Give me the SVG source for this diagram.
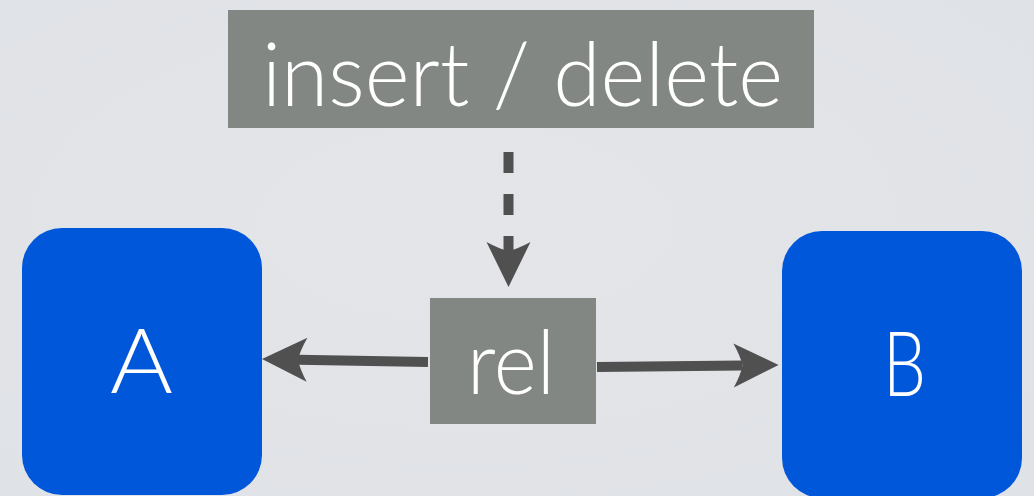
<svg xmlns="http://www.w3.org/2000/svg" width="1034" height="496" viewBox="0 0 1034 496">
  <defs>
    <radialGradient id="bg" cx="0.45" cy="0.45" r="0.75">
      <stop offset="0" stop-color="#e4e5e9"/>
      <stop offset="1" stop-color="#dfe2e6"/>
    </radialGradient>
    <!-- notched arrowhead; origin sits at the notch, tip 36 units ahead -->
    <marker id="head" markerUnits="userSpaceOnUse" viewBox="-10 -24 48 48" markerWidth="48" markerHeight="48" refX="0" refY="0" orient="auto">
      <path d="M36 0 L-9 -22 Q-2 -9 0 0 Q-2 9 -9 22 Z" fill="#505050"/>
    </marker>
    <style>
      .box { fill: #838784; }
      .ent { fill: #0057d9; }
      .lbl { fill: #ffffff; font-family: "Lato", "Open Sans", "Liberation Sans", sans-serif; font-weight: 300; }
      .edge { stroke: #505050; stroke-width: 10; fill: none; marker-end: url(#head); }
    </style>
  </defs>

  <rect width="1034" height="496" fill="url(#bg)"/>

  <g id="insert-delete">
    <rect class="box" x="228" y="10" width="586" height="118"/>
    <text class="lbl" x="262" y="106" font-size="88" textLength="521" lengthAdjust="spacingAndGlyphs">insert / delete</text>
  </g>

  <g id="rel">
    <rect class="box" x="430" y="298" width="166" height="126"/>
    <text class="lbl" x="467" y="394" font-size="88" textLength="88" lengthAdjust="spacingAndGlyphs">rel</text>
  </g>

  <g id="A">
    <rect class="ent" x="22" y="228" width="240" height="267" rx="40" ry="40"/>
    <text class="lbl" x="110" y="393" font-size="90" textLength="63" lengthAdjust="spacingAndGlyphs">A</text>
  </g>

  <g id="B">
    <rect class="ent" x="782" y="231" width="240" height="267" rx="40" ry="40"/>
    <text class="lbl" x="883" y="396" font-size="90" textLength="43" lengthAdjust="spacingAndGlyphs">B</text>
  </g>

  <g id="connectors">
    <line class="edge" x1="508.5" y1="152" x2="508.5" y2="251" stroke-dasharray="21 21"/>
    <line class="edge" x1="428" y1="362" x2="298" y2="359.7"/>
    <line class="edge" x1="597" y1="367" x2="742.6" y2="365.4"/>
  </g>
</svg>
